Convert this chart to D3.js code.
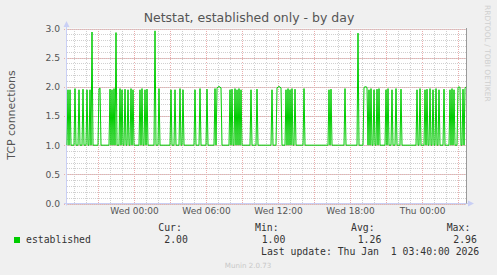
<!DOCTYPE html>
<html lang="en">
<head>
<meta charset="UTF-8">
<title>Netstat, established only - by day</title>
<script src="https://d3js.org/d3.v7.min.js"></script>
<style>
  body { margin: 0; background: #f0f0f0; }
  svg { display: block; }
</style>
</head>
<body>
<svg id="chart" width="497" height="275"></svg>
<script>
// established connections, one sample every 5 minutes (400 samples)
var established = [
  1,1.95,1,1.95,1,1,1,1,1.97,1,1,1,1.95,1,1,1,1.96,1,1,1,
  1.95,1,1,1.95,1,2.94,1,1,1,1,1,1,1.97,1.98,1,1,1,1,1,1,
  1,1,1,1.96,1,1.95,1,1.97,1,2.93,1,1,1,1.97,1,1.95,1,1,1.96,1,
  1,1.95,1,1,1.97,1,1.95,1,1,1,1,1,1,1.95,1,1.97,1,1,1.95,1,
  1.96,1,1,1,1,1,1,1,2.96,1,1,1,1.97,1,1,1,1,1,1,1,
  1,1,1,1,1.95,1,1,1,1.95,1,1,1,1,1.97,1,1,1.95,1,1,1,
  1,1,1,1,1,1,1,1,1.95,1,1,1,1,1.97,1,1,1,1,1,1,
  1.96,1,1,1,1,1,1,1,1.97,1,1.97,2,2,2,1.98,1,1,1,1,1,
  1,1,1,1.95,1,1.96,1,1,1.97,1,1.95,1,1.97,1,1.95,1,1,1,1,1,
  1,1,1,1,1.95,1,1,1,1,1,1.96,1,1,1,1,1,1,1,1,1,
  1,1,1,1,1,1.95,1,1,1,1,1.98,2,2,2,1.98,1,1,1,1,1.95,
  1,1.97,1,1.95,1,1.97,1,1,1.96,1,1,1,1,1,1,1,1,1.97,1,1,
  1,1,1,1,1,1,1,1,1,1,1,1,1,1,1,1,1,1,1,1,
  1,1,1.95,1,1.96,1,1,1,1,1,1,1,1,1,1,1,1,1,1.97,1,
  1,1,1,1,1,1,1,1,1,1,1,2.92,1,1,1,1,1,1.99,2,2,
  1.99,1,1.95,1,1.97,1,1,1.95,1,1,1.96,1,1.97,1,1,1,1,1,1,1.95,
  1,1.97,1,1,1,1.95,1,1,1,1.97,1,1,1,1,1.96,1,1,1,1,1,
  1,1,1,1,1,1,1,1,1,1,1.95,1,1,1.97,1,1,1,1,1.95,1,
  1.96,1,1,1.97,1,1,1.95,1,1,1.97,1,1,1.95,1,1,1,1,1.96,1,1,
  1,1,1,1.95,1,1.97,1,1.95,1,1,1,1.99,2,1.99,1,1,1.96,1,1.97,2
];
var lastUpdate = "2026-01-01T03:40:00Z";
var stepMinutes = 5;

var yTicks = [0, 0.5, 1.0, 1.5, 2.0, 2.5, 3.0];
var xTickTimes = ["2025-12-31T00:00:00Z", "2025-12-31T06:00:00Z", "2025-12-31T12:00:00Z",
                  "2025-12-31T18:00:00Z", "2026-01-01T00:00:00Z"];
var xTickLabels = ["Wed 00:00", "Wed 06:00", "Wed 12:00", "Wed 18:00", "Thu 00:00"];

var legendHeads = ["Cur:", "Min:", "Avg:", "Max:"];
var legendValues = ["2.00", "1.00", "1.26", "2.96"];

var svg = d3.select("#chart");
var plotLeft = 66, plotRight = 466, plotTop = 28.5, plotBottom = 203.5;

var end = new Date(lastUpdate);
var start = new Date(end.getTime() - established.length * stepMinutes * 60000);

var x = d3.scaleUtc().domain([start, end]).range([plotLeft, plotRight]);
var y = d3.scaleLinear().domain([0, 3]).range([plotBottom, plotTop]);

var points = established.map(function (v, i) {
    return { t: new Date(start.getTime() + (i + 1) * stepMinutes * 60000), v: v };
});

// plot background
svg.append("rect")
    .attr("x", plotLeft + 1).attr("y", plotTop)
    .attr("width", plotRight - plotLeft).attr("height", plotBottom - plotTop)
    .attr("fill", "#fff");

var grid = svg.append("g").attr("shape-rendering", "crispEdges");

// minor grid
var minorY = d3.range(0, 3.001, 0.1);
grid.selectAll(".gy").data(minorY).enter().append("line")
    .attr("x1", plotLeft + 1).attr("x2", plotRight)
    .attr("y1", function (d) { return Math.round(y(d)) + 0.5; })
    .attr("y2", function (d) { return Math.round(y(d)) + 0.5; })
    .attr("stroke", "#d0d0d0").attr("stroke-dasharray", "1,1");

var hours = d3.utcHour.every(1).range(start, end);
grid.selectAll(".gx").data(hours).enter().append("line")
    .attr("x1", function (d) { return Math.round(x(d)) + 0.5; })
    .attr("x2", function (d) { return Math.round(x(d)) + 0.5; })
    .attr("y1", plotTop).attr("y2", plotBottom + 2.5)
    .attr("stroke", "#d0d0d0").attr("stroke-dasharray", "1,1");

// major grid
grid.selectAll(".my").data(yTicks).enter().append("line")
    .attr("x1", plotLeft - 2).attr("x2", plotRight)
    .attr("y1", function (d) { return Math.round(y(d)) + 0.5; })
    .attr("y2", function (d) { return Math.round(y(d)) + 0.5; })
    .attr("stroke", "#eaaeae").attr("stroke-dasharray", "1,1");

var threeHours = d3.utcHour.every(3).range(start, end);
grid.selectAll(".mx").data(threeHours).enter().append("line")
    .attr("x1", function (d) { return Math.round(x(d)) + 0.5; })
    .attr("x2", function (d) { return Math.round(x(d)) + 0.5; })
    .attr("y1", plotTop).attr("y2", plotBottom + 2.5)
    .attr("stroke", "#eaaeae").attr("stroke-dasharray", "1,1");

// axes lines and arrows
svg.append("line")
    .attr("x1", plotLeft + 0.5).attr("x2", plotLeft + 0.5)
    .attr("y1", plotBottom + 2).attr("y2", 24)
    .attr("stroke", "#c9cff5");
svg.append("path")
    .attr("d", "M63.5,27L69.5,27L66.5,21Z").attr("fill", "#c9cff5");
svg.append("line")
    .attr("x1", plotLeft - 2).attr("x2", 471)
    .attr("y1", plotBottom).attr("y2", plotBottom)
    .attr("stroke", "#c9cff5");
svg.append("path")
    .attr("d", "M468,200.5L468,206.5L474,203.5Z").attr("fill", "#c9cff5");
svg.append("line")
    .attr("x1", plotRight + 0.5).attr("x2", plotRight + 0.5)
    .attr("y1", plotTop - 0.5).attr("y2", plotBottom)
    .attr("stroke", "#9a9a9a");

// data line
var line = d3.line()
    .x(function (d) { return x(d.t); })
    .y(function (d) { return y(d.v); });
svg.append("path")
    .datum(points)
    .attr("d", line)
    .attr("fill", "none")
    .attr("stroke", "#00cc00")
    .attr("stroke-width", 1);

// y axis labels
var yAxis = d3.axisLeft(y).tickValues(yTicks).tickSize(0).tickPadding(0)
    .tickFormat(d3.format(".1f"));
svg.append("g")
    .attr("transform", "translate(60,0)")
    .call(yAxis)
    .call(function (g) { g.select(".domain").remove(); })
    .selectAll("text")
    .attr("fill", "#555")
    .attr("font-family", "DejaVu Sans")
    .attr("font-size", 9.2);

// x axis labels
var xAxis = d3.axisBottom(x)
    .tickValues(xTickTimes.map(function (s) { return new Date(s); }))
    .tickSize(0).tickPadding(0)
    .tickFormat(function (d, i) { return xTickLabels[i]; });
svg.append("g")
    .attr("transform", "translate(0,208)")
    .call(xAxis)
    .call(function (g) { g.select(".domain").remove(); })
    .selectAll("text")
    .attr("fill", "#555")
    .attr("font-family", "DejaVu Sans")
    .attr("font-size", 9);

// title
svg.append("text")
    .attr("x", 249).attr("y", 22)
    .attr("text-anchor", "middle")
    .attr("font-family", "DejaVu Sans").attr("font-size", 12.5)
    .attr("fill", "#555")
    .text("Netstat, established only - by day");

// y axis title
svg.append("text")
    .attr("transform", "translate(15,115) rotate(-90)")
    .attr("text-anchor", "middle")
    .attr("font-family", "DejaVu Sans").attr("font-size", 10.9)
    .attr("fill", "#555")
    .text("TCP connections");

// watermark
svg.append("text")
    .attr("transform", "translate(484.5,5) rotate(90)")
    .attr("font-family", "DejaVu Sans").attr("font-size", 7.5)
    .attr("fill", "#cfcfcf")
    .text("RRDTOOL / TOBI OETIKER");

// legend
var headX = [158.3, 255, 351, 446.7];
var valX = [164.3, 261.7, 357.7, 453.3];
svg.selectAll(".lh").data(legendHeads).enter().append("text")
    .attr("x", function (d, i) { return headX[i]; }).attr("y", 231)
    .attr("font-family", "DejaVu Sans Mono").attr("font-size", 9.8)
    .attr("fill", "#333")
    .text(function (d) { return d; });
svg.selectAll(".lv").data(legendValues).enter().append("text")
    .attr("x", function (d, i) { return valX[i]; }).attr("y", 243)
    .attr("font-family", "DejaVu Sans Mono").attr("font-size", 9.8)
    .attr("fill", "#333")
    .text(function (d) { return d; });
svg.append("rect")
    .attr("x", 14).attr("y", 237).attr("width", 6).attr("height", 6)
    .attr("fill", "#00cc00");
svg.append("text")
    .attr("x", 26).attr("y", 243)
    .attr("font-family", "DejaVu Sans Mono").attr("font-size", 9.8)
    .attr("fill", "#333")
    .text("established");
svg.append("text")
    .attr("x", 261).attr("y", 254.5)
    .attr("font-family", "DejaVu Sans Mono").attr("font-size", 9.8)
    .attr("fill", "#333")
    .style("white-space", "pre")
    .text("Last update: Thu Jan  1 03:40:00 2026");

svg.append("text")
    .attr("x", 248).attr("y", 267.5)
    .attr("text-anchor", "middle")
    .attr("font-family", "DejaVu Sans").attr("font-size", 7.1)
    .attr("fill", "#c8c8c8")
    .text("Munin 2.0.73");
</script>
</body>
</html>
